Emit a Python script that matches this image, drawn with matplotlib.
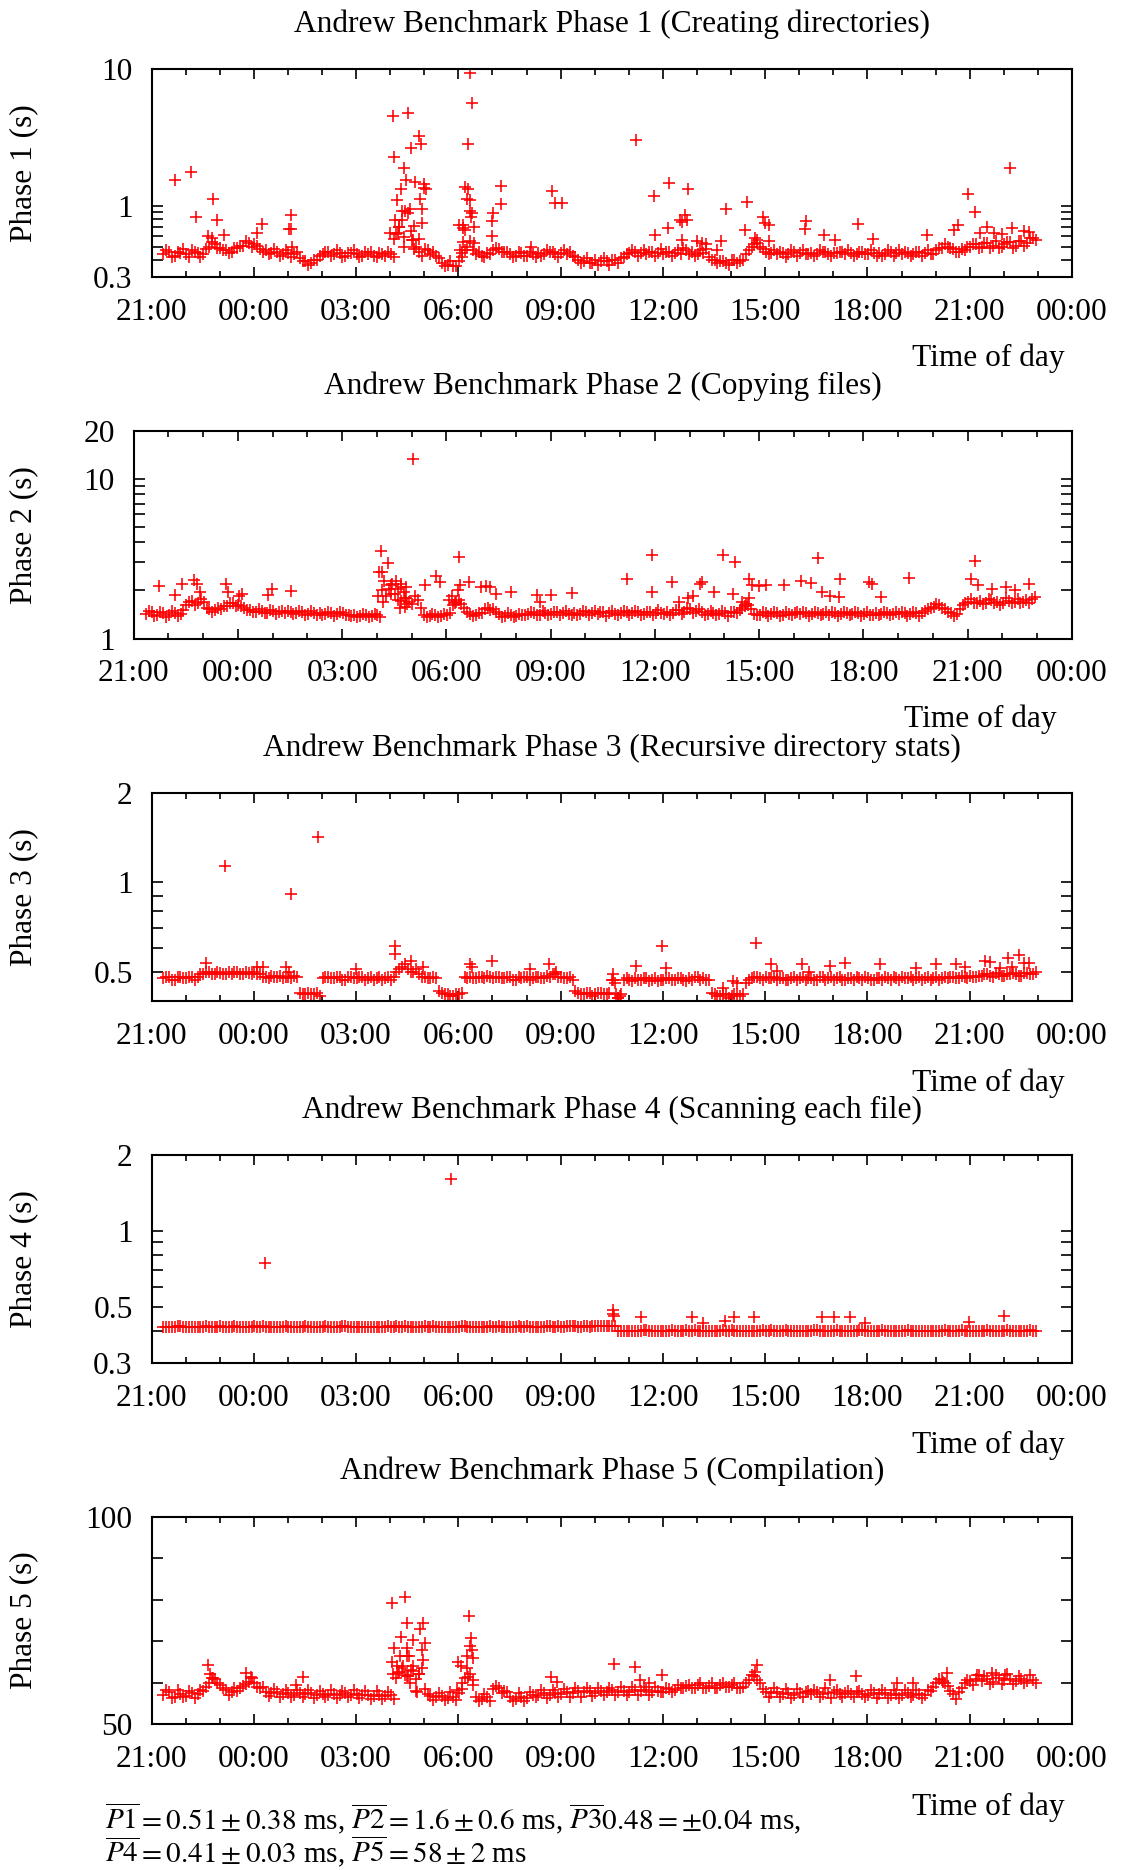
import numpy as np
import matplotlib
matplotlib.use("Agg")
import matplotlib.pyplot as plt
from matplotlib.ticker import NullFormatter

plt.rcParams['font.family'] = ['Liberation Serif', 'DejaVu Serif']
plt.rcParams['mathtext.fontset'] = 'stix'
plt.rcParams['font.size'] = 22.6

W, H = 1121, 1870

# time axis: hours after 21:00 on the first day.
# *_vals are runs every 10 minutes from 21:21, *_mid the runs 5 minutes later
t_start = 0.35
t_step = 1.0 / 6
hour_ticks = list(range(0, 28, 3))
hour_labels = ['21:00', '00:00', '03:00', '06:00', '09:00',
               '12:00', '15:00', '18:00', '21:00', '00:00']

# Phase 1 (creating directories), seconds; rows start at 21:21, 22:21, ...
p1_vals = [
    0.44, 0.46, 0.43, 0.45, 0.44, 0.47,
    0.45, 0.44, 0.50, 0.52, 0.49, 0.47,
    0.46, 0.49, 0.51, 0.53, 0.52, 0.48,
    0.47, 0.45, 0.46, 0.44, 0.45, 0.44,
    0.41, 0.39, 0.38, 0.40, 0.44, 0.46,
    0.44, 0.45, 0.43, 0.45, 0.44, 0.43,
    0.44, 0.43, 0.45, 0.43, 0.44, 0.62,
    0.78, 0.88, 0.56, 0.46, 0.48, 0.44,
    0.43, 0.38, 0.37, 0.36, 0.39, 0.47,
    0.55, 0.44, 0.43, 0.45, 0.47, 0.48,
    0.46, 0.44, 0.43, 0.45, 0.43, 0.44,
    0.45, 0.44, 0.46, 0.44, 0.45, 0.44,
    0.43, 0.40, 0.39, 0.38, 0.40, 0.39,
    0.39, 0.40, 0.38, 0.42, 0.45, 0.46,
    0.45, 0.44, 0.46, 0.45, 0.44, 0.46,
    0.45, 0.44, 0.47, 0.46, 0.44, 0.45,
    0.42, 0.40, 0.39, 0.38, 0.40, 0.38,
    0.40, 0.47, 0.52, 0.50, 0.46, 0.45,
    0.44, 0.45, 0.44, 0.46, 0.45, 0.44,
    0.45, 0.44, 0.46, 0.44, 0.45, 0.46,
    0.44, 0.45, 0.44, 0.46, 0.44, 0.45,
    0.45, 0.44, 0.46, 0.45, 0.44, 0.45,
    0.44, 0.46, 0.45, 0.44, 0.47, 0.49,
    0.50, 0.48, 0.46, 0.47, 0.50, 0.52,
    0.50, 0.53, 0.51, 0.49, 0.52, 0.54,
    0.51, 0.55, 0.53, 0.58,
]
p1_mid = [
    0.47, 0.42, 0.46, 0.48, 0.42, 0.46,
    0.42, 0.48, 0.54, 0.49, 0.47, 0.45,
    0.49, 0.51, 0.55, 0.50, 0.51, 0.46,
    0.44, 0.48, 0.43, 0.47, 0.42, 0.46,
    0.39, 0.37, 0.40, 0.43, 0.46, 0.43,
    0.47, 0.42, 0.45, 0.47, 0.42, 0.46,
    0.46, 0.42, 0.44, 0.46, 0.42, 0.70,
    0.92, 0.65, 0.50, 0.43, 0.47, 0.46,
    0.41, 0.36, 0.39, 0.36, 0.42, 0.50,
    0.47, 0.46, 0.42, 0.44, 0.49, 0.46,
    0.46, 0.42, 0.46, 0.43, 0.46, 0.42,
    0.43, 0.47, 0.46, 0.42, 0.47, 0.46,
    0.42, 0.38, 0.41, 0.38, 0.37, 0.41,
    0.37, 0.40, 0.41, 0.44, 0.47, 0.43,
    0.47, 0.46, 0.43, 0.48, 0.46, 0.43,
    0.47, 0.49, 0.44, 0.43, 0.47, 0.48,
    0.40, 0.38, 0.39, 0.37, 0.40, 0.39,
    0.44, 0.50, 0.53, 0.48, 0.44, 0.47,
    0.46, 0.42, 0.47, 0.43, 0.47, 0.44,
    0.43, 0.47, 0.46, 0.43, 0.45, 0.46,
    0.47, 0.43, 0.46, 0.44, 0.47, 0.43,
    0.43, 0.47, 0.43, 0.47, 0.46, 0.43,
    0.46, 0.43, 0.47, 0.44, 0.49, 0.52,
    0.49, 0.46, 0.48, 0.50, 0.52, 0.49,
    0.53, 0.49, 0.55, 0.50, 0.54, 0.49,
    0.55, 0.51, 0.58, 0.56,
]
p1_out_t = [0.70, 1.17, 1.79, 1.31, 1.91, 2.12, 1.65, 1.76, 3.24, 3.08, 4.09, 4.02,
            4.08, 4.12, 7.07, 7.51, 7.10, 7.40, 7.84, 7.90, 7.60, 7.47, 7.73, 7.99,
            7.31, 8.04, 7.99, 7.21, 7.89, 7.35, 7.58, 7.94, 7.14, 7.27, 7.69, 7.94,
            7.00, 7.24, 7.10, 7.42, 7.63, 7.84, 7.40, 7.71, 9.35, 9.40, 9.27, 9.20,
            9.27, 9.25, 9.33, 9.33, 9.40, 9.38, 9.02, 9.15, 9.46, 9.20, 9.15, 9.46,
            9.15, 9.05, 9.10, 10.26, 10.26, 10.03, 10.00, 9.98, 11.13, 11.76, 11.85,
            12.05, 14.20, 15.18, 14.74, 15.73, 16.85, 17.46, 17.93, 18.00, 18.10,
            15.65, 15.70, 15.50, 15.55, 15.16, 14.76, 15.55, 16.00, 16.15, 16.25,
            16.70, 16.60, 17.40, 17.70, 17.75, 18.10, 19.20, 19.18, 19.73, 20.05,
            20.72, 21.15, 22.74, 23.55, 23.65, 23.95, 24.16, 25.18, 25.23, 24.30,
            24.50, 24.70, 24.95, 25.60, 25.75]
p1_out_v = [1.53, 1.75, 1.11, 0.82, 0.79, 0.61, 0.60, 0.58, 0.73, 0.63, 0.85, 0.67,
            0.67, 0.50, 4.52, 4.73, 2.25, 1.89, 3.23, 2.82, 2.65, 1.53, 1.50, 1.45,
            1.32, 1.32, 1.35, 1.10, 1.12, 0.92, 0.94, 0.95, 0.78, 0.70, 0.71, 0.74,
            0.63, 0.63, 0.57, 0.59, 0.56, 0.57, 0.50, 0.48, 9.40, 5.60, 2.82, 1.37,
            1.33, 1.12, 1.10, 0.92, 0.88, 0.82, 0.72, 0.72, 0.70, 0.66, 0.68, 0.53,
            0.54, 0.47, 0.45, 1.40, 1.02, 0.88, 0.77, 0.60, 0.50, 1.28, 1.05,
            1.04, 3.01, 1.47, 1.18, 1.32, 0.95, 1.06, 0.83, 0.74, 0.72,
            0.85, 0.79, 0.78, 0.76, 0.69, 0.61, 0.56, 0.55, 0.53, 0.52,
            0.55, 0.47, 0.66, 0.58, 0.56, 0.55, 0.77, 0.67, 0.61, 0.56,
            0.73, 0.57, 0.61, 0.66, 0.72, 1.21, 0.89, 1.90, 0.68, 0.63,
            0.70, 0.63, 0.62, 0.65, 0.64]

# Phase 2 (copying files)
p2_vals = [
    1.42, 1.46, 1.40, 1.44, 1.41, 1.45,
    1.43, 1.62, 1.72, 1.66, 1.70, 1.52,
    1.50, 1.54, 1.60, 1.66, 1.62, 1.56,
    1.50, 1.47, 1.49, 1.45, 1.48, 1.46,
    1.45, 1.47, 1.44, 1.46, 1.43, 1.45,
    1.44, 1.42, 1.45, 1.43, 1.44, 1.41,
    1.40, 1.38, 1.41, 1.39, 1.40, 1.70,
    2.05, 1.90, 2.10, 1.80, 1.65, 1.75,
    1.40, 1.38, 1.41, 1.39, 1.40, 1.62,
    1.75, 1.55, 1.42, 1.40, 1.45, 1.55,
    1.52, 1.42, 1.39, 1.41, 1.38, 1.40,
    1.42, 1.44, 1.41, 1.45, 1.43, 1.46,
    1.44, 1.42, 1.45, 1.43, 1.46, 1.44,
    1.43, 1.46, 1.44, 1.42, 1.45, 1.47,
    1.44, 1.46, 1.43, 1.47, 1.45, 1.44,
    1.46, 1.44, 1.50, 1.47, 1.52, 1.48,
    1.46, 1.43, 1.45, 1.42, 1.44, 1.46,
    1.45, 1.55, 1.62, 1.43, 1.41, 1.44,
    1.42, 1.44, 1.41, 1.43, 1.45, 1.42,
    1.44, 1.42, 1.45, 1.43, 1.41, 1.44,
    1.43, 1.45, 1.42, 1.44, 1.43, 1.41,
    1.44, 1.42, 1.45, 1.43, 1.42, 1.44,
    1.43, 1.45, 1.44, 1.52, 1.58, 1.62,
    1.52, 1.44, 1.42, 1.62, 1.70, 1.68,
    1.72, 1.66, 1.74, 1.70, 1.68, 1.73,
    1.70, 1.66, 1.75, 1.78,
]
p2_mid = [
    1.48, 1.38, 1.47, 1.37, 1.48, 1.39,
    1.50, 1.70, 1.62, 1.78, 1.56, 1.47,
    1.55, 1.60, 1.68, 1.59, 1.60, 1.50,
    1.46, 1.52, 1.44, 1.51, 1.43, 1.49,
    1.49, 1.42, 1.48, 1.41, 1.48, 1.40,
    1.40, 1.46, 1.39, 1.47, 1.40, 1.38,
    1.37, 1.42, 1.36, 1.43, 1.37, 1.85,
    2.20, 1.75, 1.95, 1.70, 1.85, 1.55,
    1.37, 1.43, 1.36, 1.42, 1.45, 1.70,
    1.65, 1.47, 1.38, 1.45, 1.52, 1.50,
    1.46, 1.37, 1.44, 1.37, 1.43, 1.40,
    1.46, 1.40, 1.48, 1.40, 1.47, 1.40,
    1.48, 1.41, 1.40, 1.48, 1.40, 1.49,
    1.47, 1.39, 1.49, 1.41, 1.48, 1.40,
    1.49, 1.41, 1.47, 1.40, 1.50, 1.42,
    1.41, 1.51, 1.43, 1.55, 1.44, 1.52,
    1.41, 1.48, 1.40, 1.48, 1.39, 1.47,
    1.50, 1.60, 1.52, 1.40, 1.47, 1.39,
    1.47, 1.39, 1.46, 1.40, 1.46, 1.47,
    1.39, 1.47, 1.40, 1.47, 1.46, 1.39,
    1.47, 1.40, 1.46, 1.39, 1.47, 1.40,
    1.40, 1.47, 1.40, 1.46, 1.47, 1.39,
    1.47, 1.39, 1.48, 1.56, 1.64, 1.55,
    1.46, 1.38, 1.52, 1.68, 1.78, 1.68,
    1.65, 1.78, 1.67, 1.63, 1.79, 1.67,
    1.77, 1.69, 1.66, 1.82,
]
p2_out_t = [0.72, 1.20, 1.38, 1.73, 1.81, 1.90, 2.65, 2.72, 3.03, 3.12, 3.87, 3.99,
            4.52, 7.11, 7.05, 7.15, 7.32, 7.20, 7.55, 7.70, 7.40, 7.15, 7.62, 7.85,
            7.02, 7.40, 7.80, 7.68, 7.88, 7.80, 7.66, 8.04, 8.37, 8.70, 8.82, 9.35,
            9.66, 9.40, 9.32, 9.15, 9.08, 9.25, 10.00, 10.14, 10.26, 10.43, 10.85,
            11.60, 11.70, 12.00, 12.60, 14.19, 14.92, 14.92, 15.50, 16.30, 16.35,
            15.70, 15.95, 16.10, 16.70, 16.95, 17.30, 17.25, 17.70, 17.80, 17.98,
            17.50, 17.62, 17.72, 18.20, 18.70, 19.20, 19.50, 19.70, 19.80, 20.05,
            20.30, 20.32, 21.15, 21.25, 21.50, 22.30, 24.10, 24.20, 24.30, 24.70,
            25.10, 25.35, 25.75]
p2_out_v = [2.13, 1.87, 2.21, 2.33, 2.21, 1.96, 2.21, 1.96, 1.85, 1.90, 1.87, 2.03,
            1.98, 3.56, 2.62, 2.60, 2.96, 2.30, 2.30, 2.20, 2.15, 2.00, 2.05, 2.10,
            1.85, 1.90, 1.80, 1.72, 1.65, 1.58, 1.55, 13.4, 2.18, 2.47, 2.27, 3.26,
            2.27, 2.15, 2.00, 1.85, 1.75, 1.68, 2.10, 2.13, 2.10, 1.90, 1.97,
            1.87, 1.70, 1.87, 1.92, 2.36, 3.34, 1.97, 2.27, 2.20, 2.25,
            1.70, 1.80, 1.85, 1.97, 3.34, 3.02, 1.90, 2.36, 2.15, 2.12,
            1.70, 1.65, 1.80, 2.15, 2.15, 2.29, 2.23, 3.19, 1.97, 1.85,
            1.82, 2.37, 2.25, 2.20, 1.82, 2.38, 2.36, 3.07, 2.15, 2.05,
            2.10, 2.00, 2.20]

# Phase 3 (recursive directory stats)
p3_vals = [
    0.475, 0.48, 0.47, 0.48, 0.475, 0.48,
    0.48, 0.49, 0.50, 0.49, 0.495, 0.49,
    0.49, 0.50, 0.49, 0.495, 0.50, 0.49,
    0.48, 0.485, 0.48, 0.475, 0.48, 0.485,
    0.425, 0.42, 0.42, 0.425, 0.475, 0.48,
    0.475, 0.48, 0.47, 0.48, 0.475, 0.48,
    0.475, 0.47, 0.48, 0.475, 0.47, 0.50,
    0.52, 0.51, 0.50, 0.49, 0.48, 0.475,
    0.475, 0.425, 0.42, 0.415, 0.42, 0.48,
    0.48, 0.475, 0.48, 0.485, 0.475, 0.48,
    0.475, 0.48, 0.47, 0.475, 0.48, 0.475,
    0.48, 0.475, 0.48, 0.49, 0.48, 0.475,
    0.47, 0.425, 0.42, 0.425, 0.42, 0.425,
    0.42, 0.47, 0.41, 0.47, 0.47, 0.475,
    0.47, 0.475, 0.47, 0.465, 0.47, 0.475,
    0.47, 0.475, 0.465, 0.47, 0.48, 0.475,
    0.47, 0.42, 0.415, 0.42, 0.415, 0.42,
    0.42, 0.47, 0.48, 0.475, 0.48, 0.475,
    0.47, 0.475, 0.47, 0.48, 0.475, 0.47,
    0.475, 0.47, 0.48, 0.475, 0.47, 0.48,
    0.47, 0.475, 0.48, 0.47, 0.475, 0.47,
    0.475, 0.48, 0.47, 0.475, 0.48, 0.475,
    0.47, 0.48, 0.475, 0.47, 0.48, 0.475,
    0.475, 0.48, 0.475, 0.48, 0.485, 0.48,
    0.485, 0.49, 0.48, 0.49, 0.485, 0.49,
    0.49, 0.485, 0.495, 0.49,
]
p3_mid = [
    0.48, 0.47, 0.48, 0.475, 0.48, 0.47,
    0.49, 0.50, 0.49, 0.50, 0.49, 0.50,
    0.50, 0.49, 0.50, 0.49, 0.49, 0.48,
    0.475, 0.48, 0.485, 0.48, 0.475, 0.48,
    0.42, 0.425, 0.42, 0.415, 0.48, 0.475,
    0.48, 0.47, 0.48, 0.475, 0.48, 0.47,
    0.48, 0.475, 0.47, 0.48, 0.48, 0.51,
    0.53, 0.50, 0.51, 0.48, 0.475, 0.48,
    0.43, 0.42, 0.415, 0.42, 0.425, 0.475,
    0.475, 0.48, 0.475, 0.48, 0.48, 0.475,
    0.48, 0.47, 0.48, 0.48, 0.47, 0.48,
    0.475, 0.485, 0.49, 0.48, 0.475, 0.48,
    0.43, 0.42, 0.425, 0.415, 0.425, 0.42,
    0.425, 0.46, 0.42, 0.475, 0.465, 0.47,
    0.475, 0.465, 0.475, 0.47, 0.475, 0.47,
    0.475, 0.47, 0.475, 0.48, 0.47, 0.47,
    0.425, 0.415, 0.42, 0.41, 0.42, 0.415,
    0.46, 0.475, 0.48, 0.47, 0.475, 0.48,
    0.475, 0.47, 0.475, 0.47, 0.48, 0.475,
    0.47, 0.48, 0.47, 0.48, 0.475, 0.47,
    0.475, 0.47, 0.475, 0.48, 0.47, 0.475,
    0.47, 0.475, 0.48, 0.47, 0.475, 0.48,
    0.475, 0.47, 0.48, 0.475, 0.47, 0.48,
    0.48, 0.475, 0.485, 0.475, 0.48, 0.485,
    0.49, 0.485, 0.495, 0.485, 0.49, 0.495,
    0.485, 0.495, 0.49, 0.50,
]
p3_out_t = [2.17, 4.08, 4.88, 1.60, 3.10, 3.26, 3.95, 4.02, 6.00, 7.14, 7.13, 7.60,
            7.97, 9.33, 9.40, 9.98, 11.10, 11.65, 11.86, 13.55, 13.55, 13.62, 13.68,
            13.75, 14.21, 14.97, 15.10, 17.06, 17.17, 16.75, 17.74, 18.18, 18.35,
            19.07, 19.28, 19.90, 20.33, 21.36, 22.42, 23.00, 23.60, 23.85, 24.45,
            24.60, 25.13, 25.44, 25.60, 25.75, 24.90, 25.25]
p3_out_v = [1.135, 0.916, 1.42, 0.535, 0.52, 0.52, 0.52, 0.50, 0.51, 0.613, 0.575,
            0.545, 0.52, 0.53, 0.52, 0.544, 0.51, 0.53, 0.50, 0.49, 0.47, 0.42, 0.41,
            0.415, 0.525, 0.613, 0.515, 0.465, 0.46, 0.44, 0.624, 0.53, 0.505,
            0.53, 0.50, 0.525, 0.535, 0.53, 0.515, 0.53, 0.53, 0.52, 0.545,
            0.54, 0.555, 0.57, 0.535, 0.535, 0.515, 0.52]

# Phase 4 (scanning each file)
p4_vals = [
    0.414, 0.417, 0.415, 0.418, 0.414, 0.416,
    0.417, 0.414, 0.416, 0.415, 0.418, 0.415,
    0.415, 0.417, 0.414, 0.416, 0.418, 0.415,
    0.416, 0.414, 0.417, 0.415, 0.414, 0.417,
    0.415, 0.418, 0.414, 0.416, 0.415, 0.417,
    0.414, 0.416, 0.418, 0.415, 0.417, 0.414,
    0.416, 0.415, 0.417, 0.414, 0.416, 0.418,
    0.415, 0.417, 0.416, 0.414, 0.418, 0.416,
    0.417, 0.415, 0.414, 0.417, 0.415, 0.418,
    0.416, 0.414, 0.417, 0.415, 0.416, 0.418,
    0.415, 0.417, 0.414, 0.416, 0.418, 0.415,
    0.417, 0.416, 0.418, 0.415, 0.417, 0.419,
    0.418, 0.416, 0.419, 0.417, 0.420, 0.418,
    0.419, 0.420, 0.401, 0.399, 0.402, 0.400,
    0.401, 0.403, 0.400, 0.402, 0.399, 0.401,
    0.402, 0.400, 0.403, 0.401, 0.400, 0.402,
    0.400, 0.402, 0.399, 0.401, 0.403, 0.400,
    0.401, 0.399, 0.402, 0.400, 0.401, 0.403,
    0.402, 0.400, 0.401, 0.399, 0.402, 0.400,
    0.401, 0.403, 0.400, 0.402, 0.401, 0.399,
    0.400, 0.402, 0.401, 0.403, 0.400, 0.402,
    0.401, 0.400, 0.402, 0.399, 0.401, 0.403,
    0.402, 0.400, 0.401, 0.402, 0.400, 0.401,
    0.400, 0.402, 0.401, 0.399, 0.402, 0.401,
    0.401, 0.403, 0.400, 0.402, 0.401, 0.400,
    0.402, 0.400, 0.401, 0.402,
]
p4_mid = [
    0.416, 0.414, 0.418, 0.415, 0.417, 0.414,
    0.415, 0.418, 0.414, 0.417, 0.415, 0.416,
    0.418, 0.415, 0.416, 0.414, 0.416, 0.418,
    0.414, 0.417, 0.415, 0.418, 0.416, 0.414,
    0.417, 0.415, 0.416, 0.414, 0.418, 0.415,
    0.416, 0.418, 0.415, 0.417, 0.414, 0.416,
    0.414, 0.417, 0.415, 0.418, 0.415, 0.416,
    0.418, 0.414, 0.415, 0.417, 0.415, 0.418,
    0.415, 0.417, 0.416, 0.414, 0.418, 0.415,
    0.414, 0.417, 0.415, 0.418, 0.414, 0.416,
    0.417, 0.415, 0.418, 0.414, 0.416, 0.417,
    0.416, 0.418, 0.415, 0.419, 0.416, 0.418,
    0.420, 0.417, 0.418, 0.420, 0.418, 0.421,
    0.418, 0.421, 0.400, 0.402, 0.399, 0.401,
    0.403, 0.400, 0.402, 0.399, 0.401, 0.403,
    0.400, 0.402, 0.400, 0.403, 0.401, 0.399,
    0.402, 0.400, 0.403, 0.400, 0.401, 0.402,
    0.399, 0.402, 0.400, 0.403, 0.400, 0.401,
    0.400, 0.403, 0.399, 0.402, 0.400, 0.402,
    0.403, 0.400, 0.402, 0.399, 0.403, 0.401,
    0.402, 0.400, 0.403, 0.400, 0.402, 0.400,
    0.403, 0.401, 0.399, 0.402, 0.400, 0.401,
    0.400, 0.402, 0.399, 0.400, 0.402, 0.403,
    0.402, 0.400, 0.403, 0.401, 0.399, 0.402,
    0.400, 0.401, 0.402, 0.400, 0.403, 0.401,
    0.400, 0.402, 0.403, 0.401,
]
p4_out_t = [3.34, 8.78, 13.53, 13.55, 13.57, 14.37, 15.86, 16.17, 16.82, 17.10,
            17.66, 19.66, 20.03, 20.50, 20.94, 23.97, 25.02]
p4_out_v = [0.747, 1.60, 0.487, 0.47, 0.46, 0.454, 0.454, 0.43, 0.44, 0.456,
            0.454, 0.456, 0.456, 0.456, 0.43, 0.435, 0.458]

# Phase 5 (compilation)
p5_vals = [
    57.0, 57.6, 56.6, 57.3, 56.8, 57.5,
    57.2, 58.0, 60.0, 60.8, 59.5, 58.2,
    57.6, 58.0, 59.2, 60.2, 59.8, 58.6,
    57.8, 57.4, 57.6, 57.2, 57.5, 57.1,
    57.4, 57.2, 57.5, 57.1, 57.3, 57.0,
    57.3, 57.1, 57.4, 57.0, 57.2, 56.9,
    57.1, 56.8, 57.0, 56.7, 56.9, 61.0,
    63.5, 61.5, 64.0, 62.0, 58.5, 56.8,
    56.5, 56.8, 56.3, 56.6, 57.5, 61.0,
    62.0, 56.5, 56.0, 56.4, 58.4, 58.8,
    58.0, 56.4, 56.0, 56.5, 56.2, 57.0,
    57.0, 57.4, 57.0, 57.5, 57.2, 57.8,
    57.4, 57.9, 57.6, 58.0, 57.5, 57.9,
    57.6, 58.1, 57.7, 58.0, 57.8, 58.2,
    57.9, 58.3, 57.6, 58.0, 57.8, 58.4,
    58.2, 58.8, 59.2, 58.6, 59.4, 58.8,
    59.2, 58.7, 59.5, 58.9, 59.3, 58.6,
    59.0, 60.5, 61.5, 59.8, 57.8, 57.4,
    57.6, 57.2, 57.5, 57.1, 57.4, 57.6,
    57.3, 57.7, 57.2, 57.5, 57.8, 57.3,
    57.5, 57.2, 57.6, 57.3, 57.0, 57.4,
    57.2, 57.5, 57.0, 57.3, 57.1, 57.4,
    57.0, 57.3, 57.1, 58.0, 60.0, 60.6,
    59.2, 57.2, 57.6, 60.0, 60.4, 60.8,
    60.4, 60.8, 60.2, 61.0, 60.5, 60.8,
    60.4, 60.9, 60.3, 60.7,
]
p5_mid = [
    58.1, 56.2, 58.2, 56.4, 58.0, 56.3,
    58.3, 59.0, 61.2, 59.8, 58.8, 56.9,
    58.6, 58.8, 59.6, 61.0, 59.0, 58.9,
    56.7, 58.4, 56.5, 58.2, 56.4, 58.1,
    56.4, 58.1, 56.3, 58.0, 56.4, 58.1,
    56.3, 58.0, 56.4, 58.1, 56.2, 57.9,
    56.1, 57.9, 56.0, 57.8, 56.0, 62.5,
    61.8, 63.0, 60.8, 63.5, 57.2, 55.8,
    57.5, 55.7, 57.6, 55.8, 58.5, 63.5,
    59.5, 55.6, 57.2, 55.6, 59.2, 57.4,
    57.8, 55.6, 57.4, 55.6, 57.6, 56.5,
    58.1, 56.2, 58.3, 56.4, 58.4, 56.6,
    58.6, 56.6, 58.8, 56.8, 58.8, 56.9,
    58.8, 56.9, 59.0, 57.0, 58.9, 57.0,
    59.0, 57.0, 59.0, 57.6, 58.8, 57.8,
    59.3, 58.6, 59.5, 58.8, 59.8, 58.6,
    59.8, 58.8, 60.0, 58.9, 59.9, 58.6,
    60.0, 61.8, 60.6, 58.4, 56.4, 58.6,
    56.4, 58.5, 56.3, 58.4, 56.4, 57.9,
    58.3, 56.4, 58.6, 56.3, 58.2, 56.6,
    58.0, 56.5, 57.9, 56.4, 58.1, 56.2,
    58.2, 56.3, 58.1, 56.2, 58.3, 56.4,
    58.1, 56.2, 58.2, 59.0, 60.8, 59.8,
    58.0, 56.0, 58.8, 60.6, 59.4, 61.8,
    61.6, 59.6, 61.7, 59.7, 62.0, 59.6,
    61.6, 59.8, 61.8, 59.9,
]
p5_out_t = [7.04, 7.45, 7.50, 7.33, 7.66, 7.88, 7.95, 7.11, 7.48, 7.92, 8.02, 7.29,
            7.48, 7.56, 7.97, 7.04, 7.19, 7.39, 7.09, 7.24, 7.48, 7.68, 7.86, 7.58,
            7.76, 7.80, 9.31, 9.37, 9.34, 9.39, 9.00, 9.07, 9.24, 9.44, 9.10, 9.29,
            8.95, 9.44, 1.67, 1.72, 1.80, 2.77, 2.92, 4.43, 4.23, 11.72, 11.90,
            13.57, 14.17, 14.33, 14.97, 14.60, 17.77, 17.70, 19.90, 20.67, 21.86,
            22.35, 23.23, 23.33, 24.20, 24.65, 25.04]
p5_out_v = [79.1, 80.7, 74.3, 71.1, 70.3, 73.0, 74.3, 68.3, 68.4, 67.9, 69.6, 66.3,
            66.3, 66.3, 65.5, 65.0, 64.0, 64.0, 62.0, 62.4, 61.6, 62.8, 62.0, 60.0,
            58.0, 57.6, 76.1, 70.7, 68.8, 67.9, 65.0, 63.9, 66.3, 65.9, 59.8, 61.4,
            58.2, 60.6, 64.3, 62.0, 61.0, 62.2, 61.4, 61.4, 59.4, 61.4, 60.2,
            64.5, 63.7, 60.6, 61.8, 59.8, 64.3, 62.5, 60.6, 61.6, 59.8,
            59.8, 60.2, 62.2, 61.8, 62.2, 61.8]

minor_01 = [0.4, 0.5, 0.6, 0.7, 0.8, 0.9]

panels = [
    dict(vals=p1_vals, mid=p1_mid, out_t=p1_out_t, out_v=p1_out_v,
         title='Andrew Benchmark Phase 1 (Creating directories)', ylabel='Phase 1 (s)',
         box=(151.5, 69, 1072, 277), scale='log', ylim=(0.3, 10),
         major=[0.3, 1, 10], labels=['0.3', '1', '10'], minor=minor_01,
         title_y=24, tod=(1065, 357.8)),
    dict(vals=p2_vals, mid=p2_mid, out_t=p2_out_t, out_v=p2_out_v,
         title='Andrew Benchmark Phase 2 (Copying files)', ylabel='Phase 2 (s)',
         box=(133.6, 431, 1072, 638.5), scale='log', ylim=(1, 20),
         major=[1, 10, 20], labels=['1', '10', '20'], minor=[2, 3, 4, 5, 6, 7, 8, 9],
         title_y=386.4, tod=(1056.6, 719.2)),
    dict(vals=p3_vals, mid=p3_mid, out_t=p3_out_t, out_v=p3_out_v,
         title='Andrew Benchmark Phase 3 (Recursive directory stats)', ylabel='Phase 3 (s)',
         box=(151.5, 792.7, 1072, 1000.7), scale='log', ylim=(0.4, 2),
         major=[0.5, 1, 2], labels=['0.5', '1', '2'], minor=[0.6, 0.7, 0.8, 0.9],
         title_y=747.8, tod=(1065, 1082.9)),
    dict(vals=p4_vals, mid=p4_mid, out_t=p4_out_t, out_v=p4_out_v,
         title='Andrew Benchmark Phase 4 (Scanning each file)', ylabel='Phase 4 (s)',
         box=(151.5, 1155, 1072, 1362.7), scale='log', ylim=(0.3, 2),
         major=[0.3, 0.5, 1, 2], labels=['0.3', '0.5', '1', '2'], minor=[0.4, 0.6, 0.7, 0.8, 0.9],
         title_y=1110.4, tod=(1065, 1445.4)),
    dict(vals=p5_vals, mid=p5_mid, out_t=p5_out_t, out_v=p5_out_v,
         title='Andrew Benchmark Phase 5 (Compilation)', ylabel='Phase 5 (s)',
         box=(151.5, 1516.7, 1072, 1724), scale='linear', ylim=(50, 100),
         major=[50, 100], labels=['50', '100'], minor=[60, 70, 80, 90],
         title_y=1471.4, tod=(1065, 1806.8)),
]

mark = dict(ls='none', marker='+', ms=9.2, mew=1.15, color='#ff0000')

fig = plt.figure(figsize=(W / 100, H / 100), dpi=100)

for p in panels:
    x0, y0, x1, y1 = p['box']
    ax = fig.add_axes([x0 / W, 1 - y1 / H, (x1 - x0) / W, (y1 - y0) / H])
    t = t_start + t_step * np.arange(len(p['vals']))
    ax.plot(t, p['vals'], **mark)
    ax.plot(t + t_step / 2, p['mid'], **mark)
    ax.plot(p['out_t'], p['out_v'], **mark)

    ax.set_yscale(p['scale'])
    ax.set_ylim(*p['ylim'])
    ax.set_xlim(0, 27)
    ax.set_yticks(p['major'])
    ax.set_yticklabels(p['labels'])
    ax.set_yticks(p['minor'], minor=True)
    ax.yaxis.set_minor_formatter(NullFormatter())
    ax.set_xticks(hour_ticks)
    ax.set_xticklabels(hour_labels)
    ax.set_xticks(range(0, 28), minor=True)

    for s in ax.spines.values():
        s.set_linewidth(1.5)
    ax.tick_params(which='both', direction='in', top=True, right=True, width=1.2)
    ax.tick_params(axis='y', which='both', length=7.7, pad=13.5)
    ax.tick_params(axis='x', which='major', length=7.2, pad=15)
    ax.tick_params(axis='x', which='minor', length=4.3)

    cx = (x0 + x1) / 2
    fig.text(cx / W, 1 - p['title_y'] / H, p['title'], ha='center', va='center')
    fig.text(24 / W, 1 - (y0 + y1) / 2 / H, p['ylabel'], rotation=90,
             ha='center', va='center')
    fig.text(p['tod'][0] / W, 1 - p['tod'][1] / H, 'Time of day', ha='right', va='center')

# summary of the phase means, two lines under the last panel
summary = (r'$\overline{P1} = 0.51 \pm 0.38$ ms, $\overline{P2} = 1.6 \pm 0.6$ ms, '
           r'$\overline{P3}0.48 = \pm 0.04$ ms,' '\n'
           r'$\overline{P4} = 0.41 \pm 0.03$ ms, $\overline{P5} = 58 \pm 2$ ms')
fig.text(105 / W, 1 - 1835 / H, summary, ha='left', va='center',
         fontsize=21, linespacing=0.92)

fig.savefig('out.png', dpi=100, facecolor='white')
